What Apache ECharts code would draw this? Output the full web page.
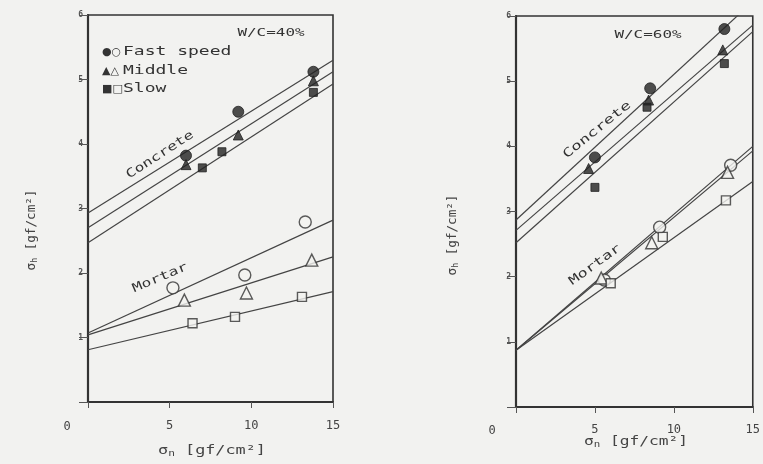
<!DOCTYPE html>
<html>
<head>
<meta charset="utf-8">
<script src="https://cdn.jsdelivr.net/npm/echarts@6/dist/echarts.min.js"></script>
<style>
html,body{margin:0;padding:0;background:#f2f2f0;}
#c{width:763px;height:464px;}
</style>
</head>
<body>
<div id="c"></div>
<script>
// ---- axis ticks ----
const xTicks = [0, 5, 10, 15];
const yTicks = [0, 1, 2, 3, 4, 5, 6];

// ---- W/C = 40% (left panel) ----
const concFast40 = [[6.0, 3.82], [9.2, 4.50], [13.8, 5.12]];
const concMid40  = [[6.0, 3.68], [9.2, 4.14], [13.8, 4.98]];
const concSlow40 = [[7.0, 3.63], [8.2, 3.88], [13.8, 4.80]];
const morFast40  = [[5.2, 1.77], [9.6, 1.97], [13.3, 2.79]];
const morMid40   = [[5.9, 1.58], [9.7, 1.69], [13.7, 2.20]];
const morSlow40  = [[6.4, 1.22], [9.0, 1.32], [13.1, 1.63]];
const fitConcFast40 = [[0, 2.93], [15, 5.30]];
const fitConcMid40  = [[0, 2.70], [15, 5.12]];
const fitConcSlow40 = [[0, 2.47], [15, 4.93]];
const fitMorFast40  = [[0, 1.07], [15, 2.82]];
const fitMorMid40   = [[0, 1.04], [15, 2.25]];
const fitMorSlow40  = [[0, 0.81], [15, 1.71]];

// ---- W/C = 60% (right panel) ----
const concFast60 = [[5.0, 3.83], [8.5, 4.89], [13.2, 5.80]];
const concMid60  = [[4.6, 3.66], [8.4, 4.71], [13.1, 5.48]];
const concSlow60 = [[5.0, 3.37], [8.3, 4.60], [13.2, 5.27]];
const morFast60  = [[5.6, 1.95], [9.1, 2.76], [13.6, 3.71]];
const morMid60   = [[5.4, 1.98], [8.6, 2.52], [13.4, 3.60]];
const morSlow60  = [[6.0, 1.90], [9.3, 2.61], [13.3, 3.17]];
const fitConcFast60 = [[0, 2.87], [15, 6.22]];
const fitConcMid60  = [[0, 2.71], [15, 5.86]];
const fitConcSlow60 = [[0, 2.52], [15, 5.76]];
const fitMorFast60  = [[0, 0.87], [15, 4.00]];
const fitMorMid60   = [[0, 0.87], [15, 3.93]];
const fitMorSlow60  = [[0, 0.87], [15, 3.46]];

// ---- texts ----
const legendSymbols = ['●○', '▲△', '■□'];
const legendTexts = ['Fast speed', 'Middle', 'Slow'];
const panelTitles = ['W/C=40%', 'W/C=60%'];
const INK = '#333';
const MONO = '"DejaVu Sans Mono", monospace';

function xAxisFor(gi, margin) {
  return {
    gridIndex: gi, type: 'value', min: 0, max: 15, interval: 5,
    axisLine: { show: true, onZero: false, lineStyle: { color: INK, width: 2.2 } },
    axisTick: { show: true, inside: false, length: 6, lineStyle: { color: '#555', width: 1 } },
    axisLabel: { margin: margin, color: '#444', fontSize: 12, fontFamily: MONO,
      formatter: v => (v === 0 ? '' : String(v)) },
    splitLine: { show: false }
  };
}
function yAxisFor(gi) {
  return {
    gridIndex: gi, type: 'value', min: 0, max: 6, interval: 1,
    axisLine: { show: true, onZero: false, lineStyle: { color: INK, width: 2.2 } },
    axisTick: { show: true, inside: false, length: 9, lineStyle: { color: '#555', width: 1 } },
    axisLabel: { margin: 5, color: '#555', fontSize: 8, fontWeight: 'bold', fontFamily: MONO,
      formatter: v => (v === 0 ? '' : String(v)) },
    splitLine: { show: false }
  };
}
function fit(gi, data) {
  return { type: 'line', xAxisIndex: gi, yAxisIndex: gi, data: data, symbol: 'none',
    clip: true, lineStyle: { color: '#444', width: 1.2 }, silent: true, z: 2 };
}
function pts(gi, data, symbol, filled, size) {
  return { type: 'scatter', xAxisIndex: gi, yAxisIndex: gi, data: data, symbol: symbol,
    symbolSize: size, clip: false, z: 3,
    itemStyle: filled ? { color: '#222', borderColor: '#222', borderWidth: 1 }
                      : { color: '#f2f2f0', borderColor: '#333', borderWidth: 1.4 } };
}
function txt(x, y, text, opt) {
  opt = opt || {};
  return { type: 'text', x: x, y: y, rotation: (opt.rot || 0) * Math.PI / 180, z: 10,
    scaleX: opt.sx || 1, scaleY: 1,
    style: { text: text, x: 0, y: 0, textAlign: opt.align || 'center', textVerticalAlign: 'middle',
      font: opt.font || ('12px ' + MONO), fill: opt.fill || INK, rich: opt.rich } };
}
const labelRich = {
  a: { fontSize: 12, fontFamily: MONO, fill: '#444', color: '#444' },
  s: { fontSize: 8, fontFamily: MONO, fill: '#444', color: '#444', padding: [6, 0, 0, 0] }
};

const legendRows = [52, 71, 89];
const legendGraphics = [];
legendRows.forEach((y, i) => {
  legendGraphics.push(txt(102, y, legendSymbols[i], { align: 'left', font: '11px "DejaVu Sans", sans-serif' }));
  legendGraphics.push(txt(123, y, legendTexts[i], { align: 'left', font: '12px ' + MONO, sx: 1.5 }));
});

const chart = echarts.init(document.getElementById('c'), null, { renderer: 'canvas' });
chart.setOption({
  backgroundColor: '#f2f2f0',
  animation: false,
  grid: [
    { left: 88, top: 15, width: 245, height: 387, show: true, borderColor: INK, borderWidth: 1.6, backgroundColor: 'transparent' },
    { left: 516, top: 16, width: 243, height: 391, show: true, borderColor: INK, borderWidth: 1.6, backgroundColor: 'transparent' }
  ],
  xAxis: [xAxisFor(0, 18), xAxisFor(1, 17)],
  yAxis: [yAxisFor(0), yAxisFor(1)],
  series: [
    fit(0, fitConcFast40), fit(0, fitConcMid40), fit(0, fitConcSlow40),
    fit(0, fitMorFast40), fit(0, fitMorMid40), fit(0, fitMorSlow40),
    pts(0, concFast40, 'circle', true, 11), pts(0, concMid40, 'triangle', true, 10), pts(0, concSlow40, 'rect', true, 8),
    pts(0, morFast40, 'circle', false, 12), pts(0, morMid40, 'triangle', false, 12), pts(0, morSlow40, 'rect', false, 9),
    fit(1, fitConcFast60), fit(1, fitConcMid60), fit(1, fitConcSlow60),
    fit(1, fitMorFast60), fit(1, fitMorMid60), fit(1, fitMorSlow60),
    pts(1, concFast60, 'circle', true, 11), pts(1, concMid60, 'triangle', true, 10), pts(1, concSlow60, 'rect', true, 8),
    pts(1, morFast60, 'circle', false, 12), pts(1, morMid60, 'triangle', false, 12), pts(1, morSlow60, 'rect', false, 9)
  ],
  graphic: legendGraphics.concat([
    txt(271, 33, panelTitles[0], { font: '11px ' + MONO, sx: 1.45 }),
    txt(648, 35, panelTitles[1], { font: '11px ' + MONO, sx: 1.45 }),
    txt(160, 155, 'Concrete', { rot: 33, font: '12px ' + MONO, sx: 1.35 }),
    txt(160, 278, 'Mortar', { rot: 23, font: '12px ' + MONO, sx: 1.35 }),
    txt(597, 130, 'Concrete', { rot: 39, font: '12px ' + MONO, sx: 1.45 }),
    txt(595, 265, 'Mortar', { rot: 36, font: '12px ' + MONO, sx: 1.4 }),
    txt(67, 427, '0', { font: '12px ' + MONO, fill: '#444' }),
    txt(492, 431, '0', { font: '12px ' + MONO, fill: '#444' }),
    txt(212, 451, '{a|σ}{s|n} {a|[gf/cm²]}', { rich: labelRich, sx: 1.4 }),
    txt(636, 442, '{a|σ}{s|n} {a|[gf/cm²]}', { rich: labelRich, sx: 1.35 }),
    txt(32, 230, '{a|σ}{s|h} {a|[gf/cm²]}', { rot: 90, rich: labelRich, sx: 1.05 }),
    txt(453, 235, '{a|σ}{s|h} {a|[gf/cm²]}', { rot: 90, rich: labelRich, sx: 1.05 })
  ])
});
</script>
</body>
</html>
